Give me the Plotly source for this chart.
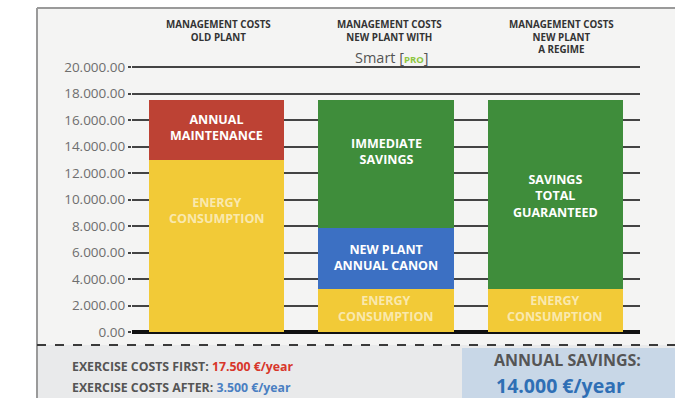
import plotly.graph_objects as go

categories = ["OLD PLANT", "NEW PLANT SMART PRO", "NEW PLANT A REGIME"]
energy = [13000, 3250, 3250]
maintenance = [4500, 0, 0]
canon = [0, 4600, 0]
savings = [0, 9650, 14250]

tick_vals = [0, 2000, 4000, 6000, 8000, 10000, 12000, 14000, 16000, 18000, 20000]
tick_text = ["0.00", "2.000.00", "4.000.00", "6.000.00", "8.000.00", "10.000.00",
             "12.000.00", "14.000.00", "16.000.00", "18.000.00", "20.000.00"]

YEL = "#f2ca37"
RED = "#bd4234"
GRN = "#3f8d3b"
BLU = "#3c70c3"
FONT = "Open Sans"

fig = go.Figure()
for name, vals, col in [("Energy consumption", energy, YEL),
                        ("Annual maintenance", maintenance, RED),
                        ("Annual canon", canon, BLU),
                        ("Savings", savings, GRN)]:
    fig.add_trace(go.Bar(x=categories, y=vals, name=name, marker_color=col,
                         marker_line_width=0, hoverinfo="skip"))

W, H = 675, 398
x0, x1 = 132, 640
ybot = 332
ymax = 20150
ytop = ybot - 265 * ymax / 20000

fig.update_layout(
    width=W, height=H, margin=dict(l=0, r=0, t=0, b=0, autoexpand=False),
    barmode="stack", bargap=0.2, showlegend=False,
    paper_bgcolor="#ffffff", plot_bgcolor="rgba(0,0,0,0)",
    font=dict(family=FONT),
    xaxis=dict(domain=[x0 / W, x1 / W], showticklabels=False, showgrid=False,
               zeroline=False, range=[-0.5, 2.5], fixedrange=True, automargin=False),
    yaxis=dict(domain=[1 - ybot / H, 1 - ytop / H], range=[0, ymax],
               tickvals=tick_vals, ticktext=tick_text, showgrid=True,
               gridcolor="#444444", gridwidth=1.5, zeroline=True,
               zerolinecolor="#111", zerolinewidth=3.5,
               ticks="outside", ticklen=3, tickcolor="#444444", tickwidth=1.5,
               tickfont=dict(size=13.5, color="#6e6e6e", family=FONT),
               fixedrange=True, automargin=False),
)

def paper_x(px):
    return px / W

def paper_y(py):
    return 1 - py / H

shapes = [
    dict(type="rect", xref="paper", yref="paper", x0=paper_x(37), x1=1,
         y0=paper_y(345), y1=paper_y(8), fillcolor="#f4f4f3", line_width=0, layer="below"),
    dict(type="rect", xref="paper", yref="paper", x0=paper_x(37), x1=1,
         y0=0, y1=paper_y(345), fillcolor="#e9eaeb", line_width=0, layer="below"),
    dict(type="rect", xref="paper", yref="paper", x0=paper_x(462), x1=1,
         y0=0, y1=paper_y(348), fillcolor="#c8d7e7", line_width=0, layer="below"),
    dict(type="line", xref="paper", yref="paper", x0=paper_x(37), x1=1,
         y0=paper_y(8), y1=paper_y(8), line=dict(color="#9a9a9a", width=2)),
    dict(type="line", xref="paper", yref="paper", x0=paper_x(37), x1=paper_x(37),
         y0=paper_y(8), y1=0, line=dict(color="#9a9a9a", width=2)),
    dict(type="line", xref="paper", yref="paper", x0=paper_x(37), x1=1,
         y0=paper_y(345), y1=paper_y(345), line=dict(color="#3a3a3a", width=2, dash="dash")),
]
fig.update_layout(shapes=shapes)

ann = []
hdr = dict(size=9.8, color="#333", family=FONT)
for cx, txt in [(218, "<b>MANAGEMENT COSTS<br>OLD PLANT</b>"),
                (390, "<b>MANAGEMENT COSTS<br>NEW PLANT WITH</b>"),
                (561, "<b>MANAGEMENT COSTS<br>NEW PLANT<br>A REGIME</b>")]:
    ann.append(dict(x=paper_x(cx), y=paper_y(16), xref="paper", yref="paper",
                    text=txt, showarrow=False, xanchor="center", yanchor="top",
                    font=hdr, align="center"))
ann.append(dict(x=paper_x(392), y=paper_y(57), xref="paper", yref="paper",
                text="Smart [<span style='color:#8cc63f;font-size:9.5px'><b>PRO</b></span>]",
                showarrow=False, xanchor="center", yanchor="middle",
                font=dict(size=14.5, color="#555", family=FONT)))

bar_lbl = dict(size=12.5, color="white", family=FONT)
faint = dict(size=12.5, color="rgba(255,255,255,0.6)", family=FONT)
for xi, yv, txt, f in [
    (0, 15400, "<b>ANNUAL<br>MAINTENANCE</b>", bar_lbl),
    (0, 9200, "<b>ENERGY<br>CONSUMPTION</b>", faint),
    (1, 13600, "<b>IMMEDIATE<br>SAVINGS</b>", bar_lbl),
    (1, 5660, "<b>NEW PLANT<br>ANNUAL CANON</b>", bar_lbl),
    (1, 1740, "<b>ENERGY<br>CONSUMPTION</b>", faint),
    (2, 10260, "<b>SAVINGS<br>TOTAL<br>GUARANTEED</b>", bar_lbl),
    (2, 1740, "<b>ENERGY<br>CONSUMPTION</b>", faint),
]:
    ann.append(dict(x=categories[xi], y=yv, xref="x", yref="y", text=txt,
                    showarrow=False, font=f, align="center"))

ann.append(dict(x=paper_x(70), y=paper_y(366), xref="paper", yref="paper",
                text="<b>EXERCISE COSTS FIRST: <span style='color:#d8362a'>17.500 €/year</span></b>",
                showarrow=False, xanchor="left", yanchor="middle",
                font=dict(size=12.3, color="#555", family=FONT)))
ann.append(dict(x=paper_x(70), y=paper_y(387), xref="paper", yref="paper",
                text="<b>EXERCISE COSTS AFTER: <span style='color:#4a7fc2'>3.500 €/year</span></b>",
                showarrow=False, xanchor="left", yanchor="middle",
                font=dict(size=12.3, color="#555", family=FONT)))
ann.append(dict(x=paper_x(567), y=paper_y(360), xref="paper", yref="paper",
                text="<b>ANNUAL SAVINGS:</b>", showarrow=False,
                xanchor="center", yanchor="middle",
                font=dict(size=16, color="#555", family=FONT)))
ann.append(dict(x=paper_x(560), y=paper_y(385), xref="paper", yref="paper",
                text="<b>14.000 €/year</b>", showarrow=False,
                xanchor="center", yanchor="middle",
                font=dict(size=19.5, color="#2f6fb5", family=FONT)))
fig.update_layout(annotations=ann)

fig.write_html("out.html", config={"displayModeBar": False},
               post_script="document.body.style.margin='0';document.body.style.overflow='hidden';")
